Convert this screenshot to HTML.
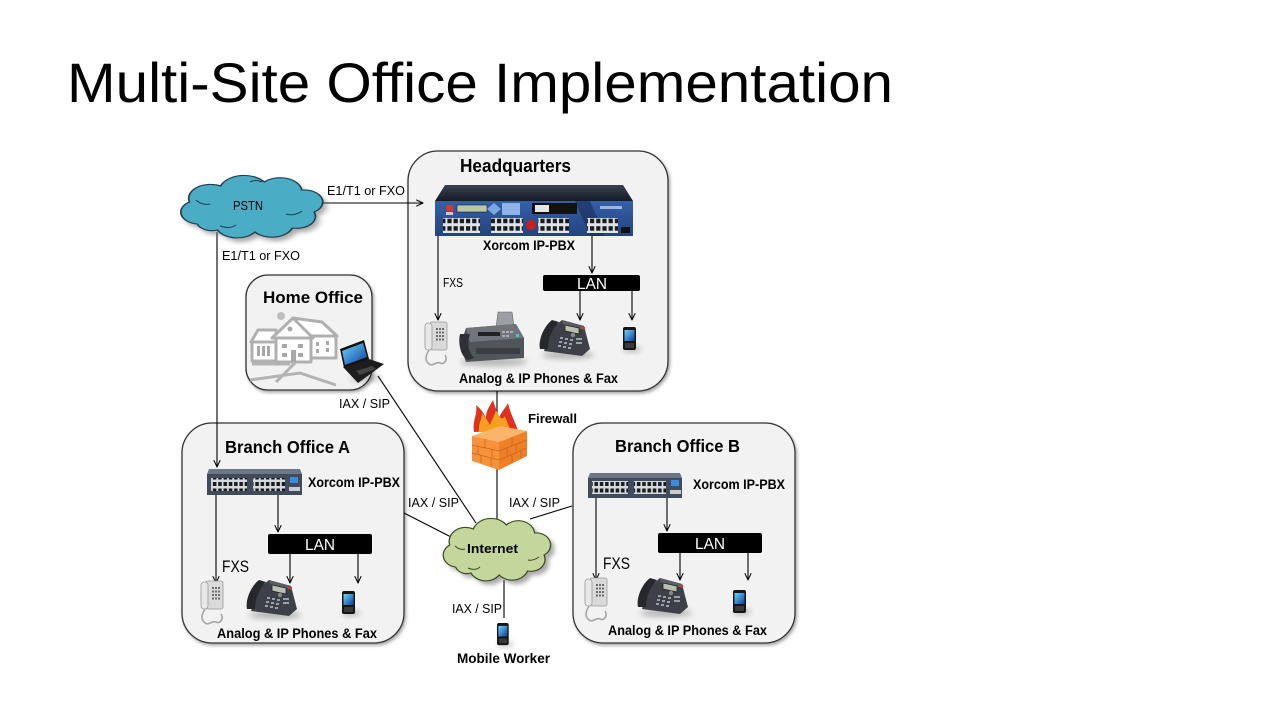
<!DOCTYPE html>
<html><head><meta charset="utf-8"><style>
html,body{margin:0;padding:0;background:#fff;}
svg{display:block;}
text{font-family:"Liberation Sans",sans-serif;fill:#000;}
.b{font-weight:bold;}
</style></head><body>
<svg width="1280" height="720" viewBox="0 0 1280 720" xmlns="http://www.w3.org/2000/svg">
<defs>
<marker id="ar" viewBox="0 0 10 10" refX="9.5" refY="5" markerWidth="8" markerHeight="8" markerUnits="userSpaceOnUse" orient="auto">
<path d="M1,1 L9.5,5 L1,9" fill="none" stroke="#000" stroke-width="1.3"/>
</marker>
<filter id="sh" x="-10%" y="-10%" width="130%" height="130%"><feDropShadow dx="1.5" dy="2" stdDeviation="1.5" flood-color="#000" flood-opacity="0.35"/></filter>
<filter id="blur" x="-50%" y="-50%" width="200%" height="200%"><feGaussianBlur stdDeviation="3"/></filter>
<filter id="blur2" x="-20%" y="-20%" width="140%" height="140%"><feGaussianBlur stdDeviation="2"/></filter>
<path id="cloud" d="M20,50 a12,12 0 0 1 -5,-22 a14,14 0 0 1 20,-16 a16,16 0 0 1 28,-4 a14,14 0 0 1 24,8 a12,12 0 0 1 8,22 a12,12 0 0 1 -14,16 a14,14 0 0 1 -24,4 a14,14 0 0 1 -24,-2 a10,10 0 0 1 -13,-6 z"/>
<pattern id="p1" patternUnits="userSpaceOnUse" width="6.2" height="7.5"><rect width="6.2" height="7.5" fill="#dfe3ea"/><rect x="1" y="1.2" width="4.2" height="4.5" fill="#1b1b1b"/></pattern>
<pattern id="p2" patternUnits="userSpaceOnUse" width="5.3" height="6.5"><rect width="5.3" height="6.5" fill="#d5d9e0"/><rect x="0.9" y="1" width="3.5" height="4" fill="#1b1b1b"/></pattern>
<linearGradient id="scr" x1="0" y1="0" x2="1" y2="1"><stop offset="0" stop-color="#6fd6ff"/><stop offset="1" stop-color="#0b3f9a"/></linearGradient>
<linearGradient id="lid" x1="0" y1="0" x2="0" y2="1"><stop offset="0" stop-color="#3a4250"/><stop offset="1" stop-color="#141a26"/></linearGradient>
<linearGradient id="front" x1="0" y1="0" x2="0" y2="1"><stop offset="0" stop-color="#3560a8"/><stop offset="1" stop-color="#23437e"/></linearGradient>

<g id="ipph">
<ellipse cx="30" cy="37" rx="26" ry="4" fill="#000" opacity="0.25" filter="url(#blur)"/>
<path d="M6,33 L44,38 L52,31 L46,8 L24,2 L12,12 Z" fill="#3d4046"/>
<path d="M24,2 L46,8 L47,12 L25,6 Z" fill="#5a5e64"/>
<path d="M27,7 L41,10 L41,16 L27,13 Z" fill="#b7c1ae" stroke="#222" stroke-width="0.8"/>
<path d="M2,31 C0,22 6,8 14,2 L21,4 C14,11 10,21 10,31 Z" fill="#26282c"/>
<g fill="#9aa0a8">
<rect x="22" y="19" width="3" height="2"/><rect x="27" y="20" width="3" height="2"/><rect x="32" y="21" width="3" height="2"/>
<rect x="21" y="23" width="3" height="2"/><rect x="26" y="24" width="3" height="2"/><rect x="31" y="25" width="3" height="2"/>
<rect x="20" y="27" width="3" height="2"/><rect x="25" y="28" width="3" height="2"/><rect x="30" y="29" width="3" height="2"/>
<rect x="38" y="20" width="6" height="2"/><rect x="38" y="24" width="6" height="2"/>
</g>
<circle cx="35" cy="17" r="2.2" fill="#888"/>
<rect x="43" y="9" width="4" height="2" fill="#d33"/>
</g>

<g id="anph">
<rect x="7" y="0" width="17" height="28" rx="2" fill="#dadada" stroke="#9a9a9a" stroke-width="0.8"/>
<rect x="2" y="1" width="7" height="27" rx="3" fill="#e8e8e8" stroke="#9a9a9a" stroke-width="0.8"/>
<g fill="#6d6d6d">
<rect x="13" y="6" width="2" height="2"/><rect x="16" y="6" width="2" height="2"/><rect x="19" y="6" width="2" height="2"/>
<rect x="13" y="9.5" width="2" height="2"/><rect x="16" y="9.5" width="2" height="2"/><rect x="19" y="9.5" width="2" height="2"/>
<rect x="13" y="13" width="2" height="2"/><rect x="16" y="13" width="2" height="2"/><rect x="19" y="13" width="2" height="2"/>
<rect x="13" y="16.5" width="2" height="2"/><rect x="16" y="16.5" width="2" height="2"/><rect x="19" y="16.5" width="2" height="2"/>
</g>
<path d="M6,28 C3,33 1,38 6,42 C10,45 13,39 17,41 C21,43 25,38 22,33" fill="none" stroke="#a5a5a5" stroke-width="1.6"/>
</g>

<g id="mob">
<ellipse cx="9" cy="22" rx="9" ry="3" fill="#000" opacity=".25" filter="url(#blur)"/>
<rect x="0" y="0" width="13" height="23" rx="2" fill="#151515"/>
<rect x="1.5" y="3" width="10" height="11" fill="url(#scr)"/>
<rect x="2" y="16" width="9" height="5" fill="#3a3a3a"/>
</g>
</defs>

<!-- Title -->
<text x="67" y="102" font-size="56" textLength="826" lengthAdjust="spacingAndGlyphs">Multi-Site Office Implementation</text>

<!-- Boxes -->
<rect x="408" y="151" width="260" height="240" rx="30" fill="#f2f2f2" stroke="#333" stroke-width="1.3" filter="url(#sh)"/>
<rect x="246" y="275" width="126" height="115" rx="22" fill="#f2f2f2" stroke="#333" stroke-width="1.3" filter="url(#sh)"/>
<rect x="182" y="423" width="222" height="220" rx="30" fill="#f2f2f2" stroke="#333" stroke-width="1.3" filter="url(#sh)"/>
<rect x="573" y="423" width="222" height="220" rx="30" fill="#f2f2f2" stroke="#333" stroke-width="1.3" filter="url(#sh)"/>

<!-- Connectors -->
<g stroke="#000" stroke-width="1.1" fill="none">
<line x1="322" y1="203" x2="423" y2="203" marker-end="url(#ar)"/>
<line x1="217" y1="232" x2="217" y2="467" marker-end="url(#ar)"/>
<line x1="438" y1="236" x2="438" y2="320" marker-end="url(#ar)"/>
<line x1="592" y1="236" x2="592" y2="273" marker-end="url(#ar)"/>
<line x1="580" y1="291" x2="580" y2="320" marker-end="url(#ar)"/>
<line x1="632" y1="291" x2="632" y2="320" marker-end="url(#ar)"/>
<line x1="378" y1="376" x2="476" y2="523"/>
<line x1="497" y1="391" x2="497" y2="430"/>
<line x1="497" y1="468" x2="497" y2="521"/>
<line x1="404" y1="513" x2="453" y2="538"/>
<line x1="572" y1="506" x2="530" y2="519"/>
<line x1="504" y1="580" x2="504" y2="618"/>
<!-- Branch A -->
<line x1="216" y1="495" x2="216" y2="583" marker-end="url(#ar)"/>
<line x1="278" y1="495" x2="278" y2="532" marker-end="url(#ar)"/>
<line x1="290" y1="554" x2="290" y2="583" marker-end="url(#ar)"/>
<line x1="358" y1="554" x2="358" y2="583" marker-end="url(#ar)"/>
<!-- Branch B -->
<line x1="596" y1="497" x2="596" y2="580" marker-end="url(#ar)"/>
<line x1="667" y1="497" x2="667" y2="531" marker-end="url(#ar)"/>
<line x1="680" y1="553" x2="680" y2="580" marker-end="url(#ar)"/>
<line x1="748" y1="553" x2="748" y2="580" marker-end="url(#ar)"/>
</g>

<!-- PSTN cloud -->
<use href="#cloud" transform="translate(170,178) scale(1.56,1)" fill="#6f6f6f" opacity="0.6" filter="url(#blur2)"/>
<use href="#cloud" transform="translate(166,174) scale(1.56,1)" fill="#4bacc6" stroke="#1f3f4c" stroke-width="1.1"/>
<path d="M196,200 c4,4 10,5 14,4 M286,214 c6,2 12,0 16,-3 M250,182 c4,-2 8,-2 12,0 M220,226 c6,2 12,2 16,-1" fill="none" stroke="#1f3f4c" stroke-width="1"/>
<text x="233" y="210" font-size="13" textLength="30" lengthAdjust="spacingAndGlyphs">PSTN</text>

<!-- Internet cloud -->
<use href="#cloud" transform="translate(436,521) scale(1.18,1)" fill="#6f6f6f" opacity="0.6" filter="url(#blur2)"/>
<use href="#cloud" transform="translate(432,517) scale(1.18,1)" fill="#c3d69b" stroke="#3c4a20" stroke-width="1.1"/>
<path d="M455,546 c3,3 7,4 10,3 M528,560 c4,1 8,-1 11,-3 M468,568 c4,2 9,2 12,-1" fill="none" stroke="#3c4a20" stroke-width="1"/>
<text x="467" y="553" font-size="13" class="b" textLength="51" lengthAdjust="spacingAndGlyphs">Internet</text>

<!-- HQ PBX -->
<path d="M445,185 L623,185 L633,201 L435,201 Z" fill="url(#lid)"/>
<rect x="435" y="201" width="198" height="35" fill="url(#front)"/>
<path d="M575,201 L590,201 L605,236 L590,236 Z" fill="#1b2c55" opacity="0.6"/>
<rect x="446" y="205" width="7" height="6" fill="#d23a30"/>
<rect x="446" y="212" width="7" height="3" fill="#ccc"/>
<rect x="457" y="205" width="30" height="7" fill="#b9c7a5" stroke="#222" stroke-width=".6"/>
<path d="M487,209 L494,203 L501,209 L494,215 Z" fill="#7aa7e0"/>
<rect x="502" y="203" width="18" height="12" fill="#8fb3e8"/>
<rect x="532" y="203" width="45" height="11" fill="#111"/>
<rect x="535" y="205" width="14" height="7" fill="#e6e6e6"/>
<rect x="600" y="206" width="22" height="3" fill="#9fb5e0"/>
<rect x="443" y="218" width="37" height="15" fill="url(#p1)"/>
<rect x="491" y="218" width="32" height="15" fill="url(#p1)"/>
<circle cx="531" cy="225" r="5" fill="#c8201e"/>
<rect x="538" y="218" width="31" height="15" fill="url(#p1)"/>
<rect x="587" y="218" width="31" height="15" fill="url(#p1)"/>
<rect x="621" y="227" width="9" height="6" fill="#111"/>
<text x="483" y="250" font-size="13.5" class="b" textLength="92" lengthAdjust="spacingAndGlyphs">Xorcom IP-PBX</text>
<text x="460" y="172" font-size="18" class="b" textLength="111" lengthAdjust="spacingAndGlyphs">Headquarters</text>
<text x="443" y="287" font-size="13" textLength="20" lengthAdjust="spacingAndGlyphs">FXS</text>
<rect x="543" y="275" width="97" height="16" rx="2" fill="#000"/>
<text x="577" y="289" font-size="16" fill="#fff" style="fill:#fff" textLength="30" lengthAdjust="spacingAndGlyphs">LAN</text>

<!-- HQ devices -->
<use href="#anph" transform="translate(423,322)"/>
<g transform="translate(458,312)">
<ellipse cx="36" cy="50" rx="34" ry="4" fill="#000" opacity=".25" filter="url(#blur)"/>
<path d="M40,0 L54,0 L56,14 L38,16 Z" fill="#9ba0a6" stroke="#666" stroke-width=".6"/>
<path d="M8,16 L58,12 L66,26 L66,46 L8,50 L2,34 Z" fill="#50545b"/>
<path d="M8,16 L58,12 L66,26 L12,30 Z" fill="#70757c"/>
<path d="M2,22 C0,30 2,44 10,48 L16,46 C10,40 9,30 12,22 Z" fill="#2e3035"/>
<rect x="20" y="20" width="22" height="4" fill="#222"/>
<g fill="#a9aeb5"><rect x="44" y="19" width="3" height="2"/><rect x="48" y="19" width="3" height="2"/><rect x="52" y="19" width="3" height="2"/><rect x="44" y="23" width="3" height="2"/><rect x="48" y="23" width="3" height="2"/></g>
<rect x="58" y="22" width="3" height="3" fill="#3cc"/>
<rect x="18" y="36" width="44" height="6" fill="#3a3d42"/>
</g>
<use href="#ipph" transform="translate(538,318)"/>
<use href="#mob" transform="translate(623,327)"/>
<text x="459" y="383" font-size="13.5" class="b" textLength="159" lengthAdjust="spacingAndGlyphs">Analog &amp; IP Phones &amp; Fax</text>

<!-- Labels -->
<text x="327" y="195" font-size="13" textLength="78" lengthAdjust="spacingAndGlyphs">E1/T1 or FXO</text>
<text x="222" y="260" font-size="13" textLength="78" lengthAdjust="spacingAndGlyphs">E1/T1 or FXO</text>
<text x="339" y="408" font-size="13" textLength="51" lengthAdjust="spacingAndGlyphs">IAX / SIP</text>
<text x="408" y="507" font-size="13" textLength="51" lengthAdjust="spacingAndGlyphs">IAX / SIP</text>
<text x="509" y="507" font-size="13" textLength="51" lengthAdjust="spacingAndGlyphs">IAX / SIP</text>
<text x="452" y="613" font-size="13" textLength="50" lengthAdjust="spacingAndGlyphs">IAX / SIP</text>

<!-- Home Office -->
<text x="263" y="303" font-size="17" class="b" textLength="100" lengthAdjust="spacingAndGlyphs">Home Office</text>
<circle cx="281" cy="316" r="4" fill="#bdbdbd"/>
<g fill="#fff" stroke="#b0b0b0" stroke-width="3" stroke-linejoin="round">
<polygon points="251,342 258,330 276,330 276,342"/>
<rect x="252" y="342" width="24" height="19"/>
<polygon points="293,318 322,322 337,336 311,338"/>
<rect x="311" y="336" width="25" height="22"/>
<polygon points="272,338 293,318 313,338"/>
<rect x="276" y="338" width="35" height="24"/>
</g>
<g fill="#a8a8a8">
<rect x="257" y="346" width="3" height="10"/><rect x="262" y="346" width="3" height="10"/><rect x="267" y="346" width="3" height="10"/>
<rect x="282" y="344" width="5" height="4"/><rect x="298" y="344" width="5" height="4"/>
<rect x="282" y="353" width="5" height="4"/><rect x="298" y="353" width="5" height="4"/>
<rect x="291" y="350" width="5" height="12"/>
<rect x="316" y="342" width="3" height="4"/><rect x="326" y="341" width="3" height="4"/>
<rect x="316" y="349" width="3" height="4"/><rect x="326" y="348" width="3" height="4"/>
<circle cx="290" cy="329" r="2.5"/>
</g>
<path d="M250,380 L300,373 L336,385 M295,363 L276,382 M252,364 L290,364" fill="none" stroke="#b3b3b3" stroke-width="3"/>
<ellipse cx="366" cy="378" rx="16" ry="4" fill="#000" opacity=".2" filter="url(#blur)"/>
<polygon points="343,367 369,359 384,364 358,383" fill="#1d1d1d"/>
<polygon points="356,371 372,366 376,369 360,375" fill="#444"/>
<polygon points="340,349 364,340 369,359 344,368" fill="#111"/>
<polygon points="342,351 363,343 367,357 345,365" fill="url(#scr)"/>

<!-- Firewall -->
<path d="M474,432 C472,421 478,414 476,405 C482,410 484,414 486,418 C486,410 490,406 493,400 C495,408 498,412 499,418 C501,412 505,409 508,403 C510,412 514,420 518,430 Z" fill="#e0301e"/>
<path d="M479,432 C478,424 482,419 482,413 C486,418 488,421 490,425 C492,419 495,415 496,410 C499,418 502,421 505,416 C507,422 509,427 512,432 Z" fill="#f7a020"/>
<polygon points="472,436 500,426 527,431 499,442" fill="#fbb56b"/>
<polygon points="472,436 499,442 499,470 472,461" fill="#f7923a"/>
<polygon points="499,442 527,431 527,456 499,470" fill="#ee8028"/>
<g stroke="#c9641c" stroke-width=".8" fill="none">
<path d="M472,445 L499,451 L527,440 M472,453 L499,460 L527,448"/>
<path d="M485,439 L485,448 M492,449 L492,457 M481,455 L481,463 M491,458 L491,467 M478,446 L478,454"/>
<path d="M507,447 L507,456 M516,444 L516,452 M512,455 L512,463 M521,450 L521,459 M512,437 L512,446"/>
</g>
<text x="528" y="423" font-size="13" class="b" textLength="49" lengthAdjust="spacingAndGlyphs">Firewall</text>

<!-- Branch A -->
<text x="225" y="453" font-size="17.5" class="b" textLength="125" lengthAdjust="spacingAndGlyphs">Branch Office A</text>
<polygon points="209,469 300,469 302,474 207,474" fill="#6c7888"/>
<rect x="207" y="474" width="95" height="21" fill="#404b5b"/>
<rect x="211" y="478" width="36" height="13" fill="url(#p2)"/>
<rect x="253" y="478" width="32" height="13" fill="url(#p2)"/>
<rect x="290" y="477" width="8" height="6" fill="#3a8ee0"/>
<rect x="289" y="487" width="11" height="4" fill="#ccc"/>
<text x="308" y="487" font-size="13.5" class="b" textLength="92" lengthAdjust="spacingAndGlyphs">Xorcom IP-PBX</text>
<text x="222" y="572" font-size="17" textLength="27" lengthAdjust="spacingAndGlyphs">FXS</text>
<rect x="268" y="534" width="104" height="20" rx="2" fill="#000"/>
<text x="305" y="550" font-size="16" style="fill:#fff" textLength="30" lengthAdjust="spacingAndGlyphs">LAN</text>
<use href="#anph" transform="translate(199,581)"/>
<use href="#ipph" transform="translate(245,578)"/>
<use href="#mob" transform="translate(342,591)"/>
<text x="217" y="638" font-size="13.5" class="b" textLength="160" lengthAdjust="spacingAndGlyphs">Analog &amp; IP Phones &amp; Fax</text>

<!-- Branch B -->
<text x="615" y="452" font-size="17.5" class="b" textLength="125" lengthAdjust="spacingAndGlyphs">Branch Office B</text>
<polygon points="590,473 680,473 682,478 588,478" fill="#6c7888"/>
<rect x="588" y="478" width="94" height="20" fill="#404b5b"/>
<rect x="592" y="481" width="36" height="13" fill="url(#p2)"/>
<rect x="634" y="481" width="32" height="13" fill="url(#p2)"/>
<rect x="671" y="480" width="8" height="6" fill="#3a8ee0"/>
<rect x="670" y="490" width="11" height="4" fill="#ccc"/>
<text x="693" y="489" font-size="13.5" class="b" textLength="92" lengthAdjust="spacingAndGlyphs">Xorcom IP-PBX</text>
<text x="603" y="569" font-size="17" textLength="27" lengthAdjust="spacingAndGlyphs">FXS</text>
<rect x="658" y="533" width="104" height="20" rx="2" fill="#000"/>
<text x="695" y="549" font-size="16" style="fill:#fff" textLength="30" lengthAdjust="spacingAndGlyphs">LAN</text>
<use href="#anph" transform="translate(583,578)"/>
<use href="#ipph" transform="translate(636,576)"/>
<use href="#mob" transform="translate(733,590)"/>
<text x="608" y="635" font-size="13.5" class="b" textLength="159" lengthAdjust="spacingAndGlyphs">Analog &amp; IP Phones &amp; Fax</text>

<!-- Mobile worker -->
<use href="#mob" transform="translate(497,623) scale(0.9,0.96)"/>
<text x="457" y="663" font-size="13.5" class="b" textLength="93" lengthAdjust="spacingAndGlyphs">Mobile Worker</text>
</svg>
</body></html>
